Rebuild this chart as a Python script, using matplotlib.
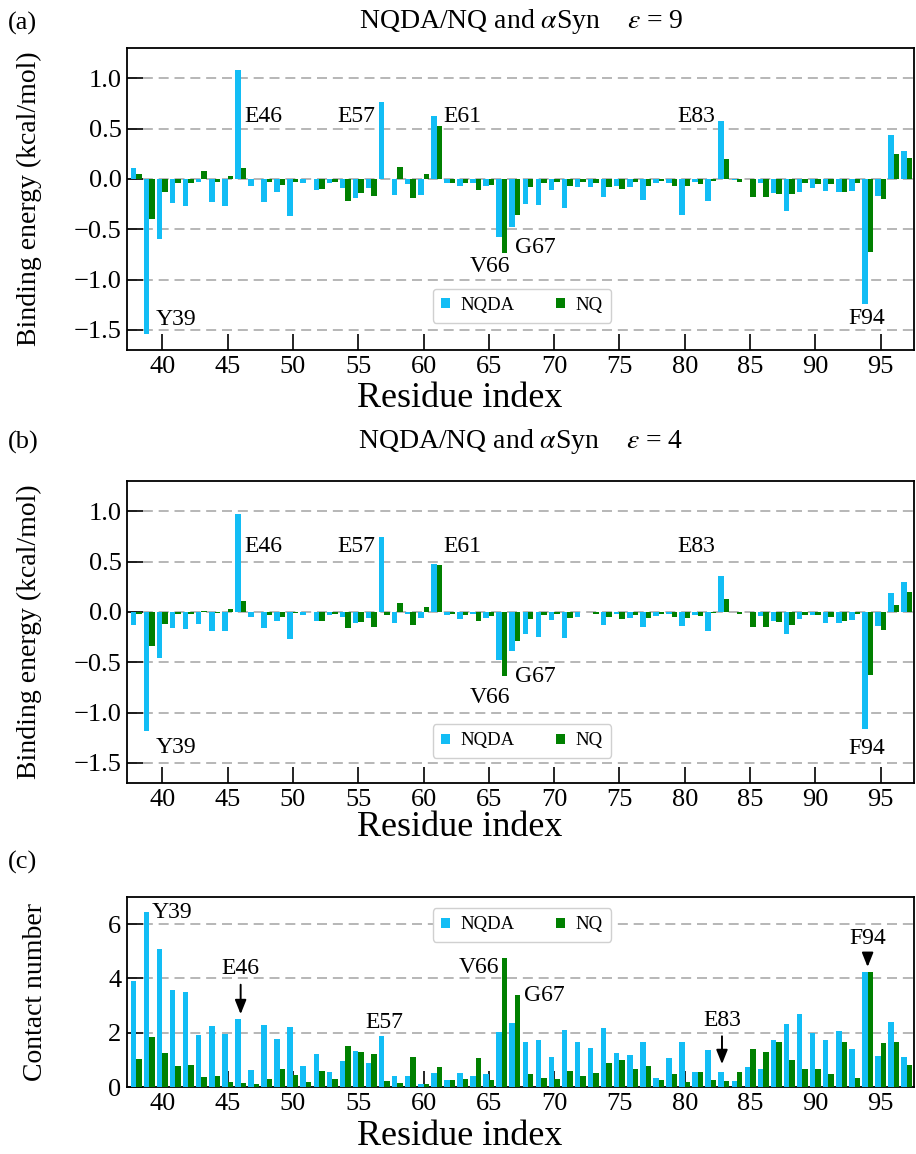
import matplotlib
matplotlib.use('Agg')
import matplotlib.pyplot as plt
import numpy as np

residues = list(range(38, 98))

nqda_e9 = [0.11, -1.54, -0.60, -0.24, -0.27, -0.03, -0.23, -0.27, 1.08, -0.07,
           -0.23, -0.13, -0.365, -0.04, -0.11, -0.04, -0.09, -0.19, -0.09, 0.76,
           -0.16, -0.05, -0.16, 0.62, -0.04, -0.07, -0.04, -0.07, -0.575, -0.48,
           -0.25, -0.26, -0.11, -0.285, -0.083, -0.08, -0.176, -0.066, -0.083, -0.21,
           -0.04, -0.04, -0.36, -0.03, -0.216, 0.578, -0.013, -0.005, -0.04, -0.14,
           -0.315, -0.126, -0.093, -0.12, -0.126, -0.12, -1.24, -0.166, 0.432, 0.28]
nq_e9 = [0.05, -0.40, -0.13, -0.04, -0.04, 0.08, -0.03, 0.03, 0.11, -0.005,
         -0.03, -0.06, -0.03, -0.003, -0.10, -0.03, -0.22, -0.14, -0.17, -0.005,
         0.12, -0.19, 0.05, 0.525, -0.04, -0.04, -0.11, -0.06, -0.74, -0.36,
         -0.076, -0.04, -0.03, -0.066, -0.027, -0.04, -0.083, -0.10, -0.033, -0.073,
         -0.02, -0.073, -0.07, -0.053, -0.02, 0.193, -0.033, -0.18, -0.176, -0.146,
         -0.153, -0.046, -0.053, -0.053, -0.126, -0.037, -0.724, -0.20, 0.25, 0.21]

nqda_e4 = [-0.126, -1.186, -0.455, -0.156, -0.173, -0.123, -0.193, -0.193, 0.977, -0.05,
           -0.156, -0.086, -0.27, -0.03, -0.086, -0.03, -0.047, -0.113, -0.063, 0.744,
           -0.113, -0.023, -0.063, 0.475, -0.033, -0.07, -0.017, -0.056, -0.48, -0.39,
           -0.22, -0.253, -0.08, -0.262, -0.047, -0.005, -0.126, -0.017, -0.063, -0.146,
           -0.04, -0.023, -0.136, -0.03, -0.19, 0.359, -0.003, -0.005, -0.04, -0.086,
           -0.223, -0.07, -0.03, -0.106, -0.106, -0.08, -1.16, -0.136, 0.186, 0.292]
nq_e4 = [-0.017, -0.34, -0.12, -0.017, -0.017, 0.013, -0.007, 0.027, 0.11, -0.005,
         -0.03, -0.047, -0.01, -0.005, -0.086, -0.017, -0.163, -0.096, -0.15, -0.03,
         0.086, -0.13, 0.047, 0.465, -0.023, -0.03, -0.086, -0.043, -0.638, -0.29,
         -0.073, -0.03, -0.02, -0.056, -0.005, -0.017, -0.047, -0.07, -0.03, -0.056,
         -0.017, -0.053, -0.056, -0.043, -0.013, 0.123, -0.017, -0.146, -0.15, -0.096,
         -0.126, -0.03, -0.033, -0.047, -0.086, -0.023, -0.628, -0.18, 0.07, 0.20]

nqda_contact = [3.89, 6.44, 5.10, 3.59, 3.49, 1.93, 2.25, 1.97, 2.50, 0.64,
                2.30, 1.77, 2.22, 0.78, 1.20, 0.55, 0.97, 1.33, 0.90, 1.87,
                0.39, 0.42, 0.12, 0.52, 0.27, 0.52, 0.39, 0.49, 2.02, 2.36,
                1.67, 1.75, 1.09, 2.10, 1.66, 1.42, 2.17, 1.25, 1.19, 1.64,
                0.33, 1.06, 1.64, 0.54, 1.35, 0.55, 0.22, 0.72, 0.67, 1.75,
                2.32, 2.70, 1.99, 1.72, 2.05, 1.39, 4.23, 1.14, 2.39, 1.12]
nq_contact = [1.05, 1.83, 1.25, 0.76, 0.80, 0.37, 0.41, 0.20, 0.14, 0.12,
              0.30, 0.68, 0.43, 0.20, 0.58, 0.31, 1.50, 1.30, 1.23, 0.23,
              0.15, 1.10, 0.11, 0.74, 0.27, 0.29, 1.07, 0.25, 4.77, 3.39,
              0.48, 0.32, 0.28, 0.59, 0.39, 0.52, 0.88, 0.98, 0.66, 0.79,
              0.26, 0.49, 0.17, 0.54, 0.25, 0.21, 0.54, 1.39, 1.28, 1.64,
              1.01, 0.66, 0.67, 0.49, 1.66, 0.34, 4.23, 1.62, 1.67, 0.82]

x_ticks = [40, 45, 50, 55, 60, 65, 70, 75, 80, 85, 90, 95]
energy_ticks = [-1.5, -1.0, -0.5, 0.0, 0.5, 1.0]
contact_ticks = [0, 2, 4, 6]

# annotations: (label, x, y, ha)
ann_e9 = [("Y39", 39.5, -1.40, 'left'), ("E46", 46.25, 0.62, 'left'),
          ("E57", 56.3, 0.62, 'right'), ("E61", 61.5, 0.62, 'left'),
          ("V66", 65.07, -0.87, 'center'), ("G67", 67.0, -0.68, 'left'),
          ("E83", 82.37, 0.62, 'right'), ("F94", 93.96, -1.39, 'center')]
ann_e4 = [("Y39", 39.5, -1.35, 'left'), ("E46", 46.25, 0.65, 'left'),
          ("E57", 56.3, 0.65, 'right'), ("E61", 61.5, 0.65, 'left'),
          ("V66", 65.07, -0.85, 'center'), ("G67", 67.0, -0.64, 'left'),
          ("E83", 82.37, 0.65, 'right'), ("F94", 93.96, -1.36, 'center')]

plt.rcParams['font.family'] = ['Liberation Serif', 'DejaVu Serif']
plt.rcParams['mathtext.fontset'] = 'stix'

BLUE = '#12bdf5'
GREEN = '#008000'
W = 0.42

fig = plt.figure(figsize=(9.16, 11.54), dpi=100)
H = 1154.0
FW = 916.0

def add_ax(top_px, bottom_px):
    return fig.add_axes([127 / FW, 1 - bottom_px / H, 787 / FW, (bottom_px - top_px) / H])

ax_a = add_ax(48, 350)
ax_b = add_ax(481, 783)
ax_c = add_ax(897, 1087)

x = np.array(residues)

def style(ax, yticks, ylim, lpad):
    ax.set_xlim(37.3, 97.55)
    ax.set_ylim(*ylim)
    ax.set_xticks(x_ticks)
    ax.set_yticks(yticks)
    ax.tick_params(direction='in', length=11.5, width=1.2, labelsize=19,
                   top=False, right=False, pad=4)
    for s in ax.spines.values():
        s.set_linewidth(1.3)
    for yt in yticks:
        ax.axhline(yt, color='#aaaaaa', lw=1.2, ls=(0, (6, 3.5)), zorder=0)
    ax.set_xlabel('Residue index', fontsize=26, labelpad=lpad, x=(460 - 127) / 787)

def energy_panel(ax, nqda, nq, title, title_px, ann, leg_y, lpad):
    ax.bar(x - W / 2, nqda, width=W, color=BLUE, label='NQDA', zorder=2)
    ax.bar(x + W / 2, nq, width=W, color=GREEN, label='NQ', zorder=2)
    style(ax, energy_ticks, (-1.7, 1.3), lpad)
    ax.set_yticklabels(['\u22121.5', '\u22121.0', '\u22120.5', '0.0', '0.5', '1.0'])
    ax.set_ylabel('Binding energy (kcal/mol)', fontsize=20)
    ax.yaxis.set_label_coords((42 - 127) / 787, 0.5)
    fig.text(521 / FW, 1 - title_px / H, title, fontsize=20, ha='center', va='center')
    for lab, tx, ty, ha in ann:
        ax.text(tx, ty, lab, fontsize=17, ha=ha, va='center')
    ax.legend(loc='center', bbox_to_anchor=(0.502, leg_y), ncol=2, fontsize=13.5,
              handlelength=0.45, handleheight=0.45, columnspacing=2.2,
              handletextpad=0.6, borderpad=0.45, framealpha=1, edgecolor='#d0d0d0')

energy_panel(ax_a, nqda_e9, nq_e9, 'NQDA/NQ and $\\alpha$Syn    $\\varepsilon$ = 9', 22, ann_e9, 0.147, 3)
energy_panel(ax_b, nqda_e4, nq_e4, 'NQDA/NQ and $\\alpha$Syn    $\\varepsilon$ = 4', 441, ann_e4, 0.14, 0)

# panel c
ax_c.bar(x - W / 2, nqda_contact, width=W, color=BLUE, label='NQDA', zorder=3)
ax_c.bar(x + W / 2, nq_contact, width=W, color=GREEN, label='NQ', zorder=3)
style(ax_c, contact_ticks, (0, 7), 4)
ax_c.set_ylabel('Contact number', fontsize=20)
ax_c.yaxis.set_label_coords((48 - 127) / 787, 0.5)
ax_c.legend(loc='center', bbox_to_anchor=(0.502, 0.854), ncol=2, fontsize=13.5,
            handlelength=0.45, handleheight=0.45, columnspacing=2.2,
            handletextpad=0.6, borderpad=0.45, framealpha=1, edgecolor='#d0d0d0')
ax_c.text(39.2, 6.42, 'Y39', fontsize=17, ha='left', va='center')
ax_c.text(57.0, 2.38, 'E57', fontsize=17, ha='center', va='center')
ax_c.text(65.79, 4.42, 'V66', fontsize=17, ha='right', va='center')
ax_c.text(67.68, 3.38, 'G67', fontsize=17, ha='left', va='center')
arrow_kw = dict(arrowstyle='-|>,head_length=0.5,head_width=0.2', color='black', lw=1.4)
ax_c.annotate('E46', xy=(46, 2.58), xytext=(46, 4.36), fontsize=17, ha='center', va='center',
              arrowprops=arrow_kw)
ax_c.annotate('E83', xy=(82.85, 0.74), xytext=(82.85, 2.46), fontsize=17, ha='center', va='center',
              arrowprops=arrow_kw)
ax_c.annotate('F94', xy=(94.0, 4.32), xytext=(94.0, 5.47), fontsize=17, ha='center', va='center',
              arrowprops=arrow_kw)

fig.text(8 / FW, 1 - 23 / H, '(a)', fontsize=19, va='center', ha='left')
fig.text(8 / FW, 1 - 442 / H, '(b)', fontsize=19, va='center', ha='left')
fig.text(8 / FW, 1 - 862 / H, '(c)', fontsize=19, va='center', ha='left')

fig.savefig('out.png', dpi=100)
